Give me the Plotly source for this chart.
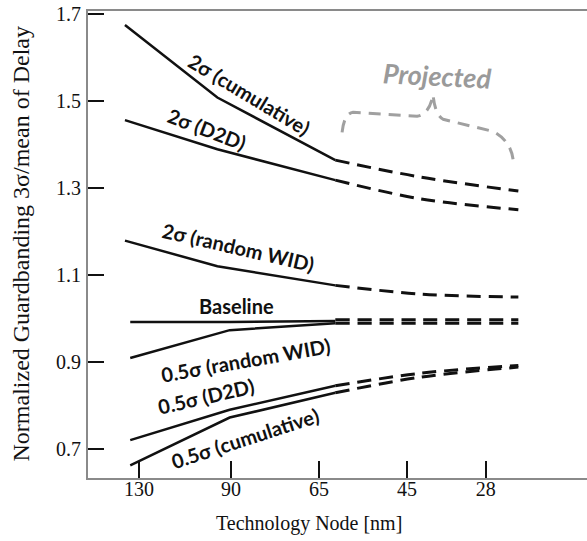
import plotly.graph_objects as go

# ---- data ----
node_labels = ["130", "90", "65", "45", "28"]
node_pos = [0, 1.045, 2.045, 3.045, 3.94]

x_solid_2s = [-0.16, 0.89, 2.23]
x_solid_05 = [-0.10, 1.03, 2.23]
x_dash = [2.23, 3.2, 4.31]

sig2_cum_solid = [1.676, 1.509, 1.365]
sig2_cum_dash = [1.365, 1.326, 1.294]
sig2_d2d_solid = [1.457, 1.390, 1.319]
sig2_d2d_dash = [1.319, 1.276, 1.251]
sig2_wid_solid = [1.180, 1.121, 1.077]
sig2_wid_dash = [1.077, 1.057, 1.050]
base_solid = [0.993, 0.993, 0.995]
base_dash = [0.998, 0.998, 0.998]
half_wid_solid = [0.910, 0.974, 0.990]
half_wid_dash = [0.990, 0.990, 0.990]
half_d2d_solid = [0.721, 0.791, 0.846]
half_d2d_dash = [0.846, 0.875, 0.893]
half_cum_solid = [0.663, 0.773, 0.830]
half_cum_dash = [0.830, 0.866, 0.889]

y_ticks = [0.7, 0.9, 1.1, 1.3, 1.5, 1.7]

fig = go.Figure()

LINE = "#111111"
solids = [
    (x_solid_2s, sig2_cum_solid), (x_solid_2s, sig2_d2d_solid), (x_solid_2s, sig2_wid_solid),
    (x_solid_05, base_solid), (x_solid_05, half_wid_solid),
    (x_solid_05, half_d2d_solid), (x_solid_05, half_cum_solid),
]
dashes = [sig2_cum_dash, sig2_d2d_dash, sig2_wid_dash, base_dash,
          half_wid_dash, half_d2d_dash, half_cum_dash]

for xs, ys in solids:
    fig.add_trace(go.Scatter(x=xs, y=ys, mode="lines",
                             line=dict(color=LINE, width=2.5), hoverinfo="skip"))
for ys in dashes:
    fig.add_trace(go.Scatter(x=x_dash, y=ys, mode="lines",
                             line=dict(color=LINE, width=3, dash="14px,8px", shape="spline"),
                             hoverinfo="skip"))

lab_font = dict(family="Lato, 'Open Sans', sans-serif", size=20, color="#111111")
labels = [
    ("2σ (cumulative)", 1.25, 1.518, 31),
    ("2σ (D2D)", 0.773, 1.436, 21),
    ("2σ (random WID)", 1.125, 1.166, 13),
    ("Baseline", 1.11, 1.029, 0),
    ("0.5σ (random WID)", 1.205, 0.906, -10),
    ("0.5σ (D2D)", 0.761, 0.823, -13),
    ("0.5σ (cumulative)", 1.205, 0.727, -18),
]
for t, x, y, a in labels:
    fig.add_annotation(x=x, y=y, xref="x", yref="y", text="<b>%s</b>" % t,
                       showarrow=False, textangle=a, font=lab_font,
                       xanchor="center", yanchor="middle")

fig.add_annotation(x=3.386, y=1.559, xref="x", yref="y", text="<b><i>Projected</i></b>",
                   showarrow=False, textangle=3,
                   font=dict(family="Lato, 'Open Sans', sans-serif", size=27, color="#9a9a9a"))

# curly brace
fig.add_shape(type="path", xref="x", yref="y",
              path="M 2.307,1.429 Q 2.33,1.472 2.432,1.475 L 3.159,1.466 "
                   "Q 3.30,1.47 3.341,1.516 Q 3.36,1.47 3.455,1.459 "
                   "L 4.023,1.431 Q 4.22,1.41 4.25,1.367",
              line=dict(color="#a0a0a0", width=3, dash="12px,8px"))

serif = "'Liberation Serif', 'Times New Roman', serif"
fig.add_annotation(x=-68 / 499, y=0.5, xref="paper", yref="paper",
                   text="Normalized Guardbanding 3σ/mean of Delay",
                   showarrow=False, textangle=-90, xanchor="center", yanchor="middle",
                   font=dict(family=serif, size=24, color="#111"))
fig.add_annotation(x=221 / 499, y=-45 / 467, xref="paper", yref="paper",
                   text="Technology Node [nm]",
                   showarrow=False, xanchor="center", yanchor="middle",
                   font=dict(family=serif, size=20, color="#111"))

fig.update_layout(
    width=587, height=541,
    margin=dict(l=88, r=0, t=11, b=63),
    paper_bgcolor="white", plot_bgcolor="white",
    showlegend=False,
    font=dict(family=serif, size=20, color="#111111"),
    xaxis=dict(range=[-0.58, 5.09], tickvals=node_pos, ticktext=node_labels,
               ticks="inside", ticklen=17, tickwidth=2, tickcolor="#111",
               ticklabelstandoff=-8,
               showline=True, linecolor="#8a8a8a", linewidth=2, mirror=True,
               showgrid=False, zeroline=False),
    yaxis=dict(range=[0.634, 1.708], tickvals=y_ticks, ticktext=[f"{v:.1f}" for v in y_ticks],
               ticks="inside", ticklen=16, tickwidth=2, tickcolor="#111",
               ticklabelstandoff=1,
               showline=True, linecolor="#8a8a8a", linewidth=2,
               showgrid=False, zeroline=False),
)

fig.write_html("out.html", config={"displayModeBar": False},
               post_script="document.body.style.margin='0';document.body.style.overflow='hidden';")
